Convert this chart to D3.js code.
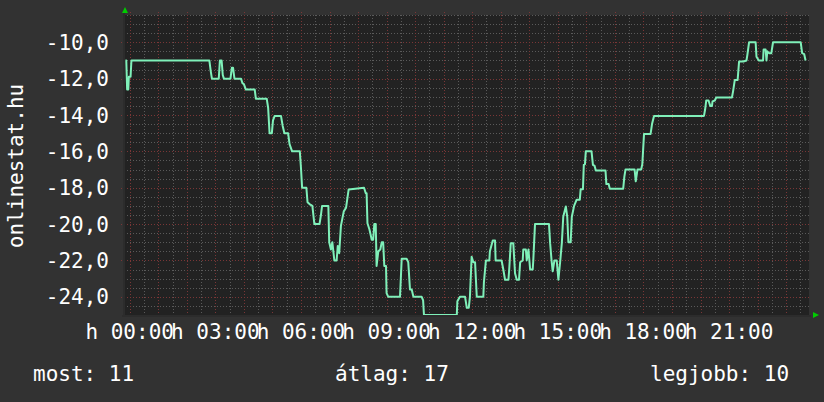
<!DOCTYPE html>
<meta charset="utf-8">
<style>
  body { margin: 0; background: #323232; }
  text { font-family: "DejaVu Sans Mono", monospace; font-size: 21px; fill: #ffffff; }
</style>
<body></body>
<script src="https://d3js.org/d3.v7.min.js"></script>
<script>

// one day of readings, hours from midnight (value in degrees)
var hours = [-0.15, -0.12, -0.09, -0.05, -0.03, 0.03, 0.06, 2.79, 2.84, 2.88, 3.12, 3.16, 3.22, 3.26, 3.30,
  3.53, 3.58, 3.62, 3.67, 3.90, 3.95, 4.00, 4.07, 4.38, 4.42, 4.80, 4.85, 4.90, 4.98, 5.02, 5.08, 5.30,
  5.36, 5.42, 5.55, 5.60, 5.69, 5.96, 6.00, 6.04, 6.19, 6.23, 6.30, 6.40, 6.47, 6.65, 6.70, 6.74, 6.96,
  6.99, 7.05, 7.10, 7.17, 7.25, 7.29, 7.34, 7.40, 7.50, 7.58, 7.67, 8.21, 8.27, 8.30, 8.33, 8.40, 8.48,
  8.53, 8.57, 8.62, 8.65, 8.71, 8.78, 8.83, 8.88, 8.92, 8.98, 9.00, 9.06, 9.47, 9.53, 9.70, 9.76, 9.82,
  9.88, 9.94, 10.23, 10.28, 10.31, 11.46, 11.48, 11.57, 11.75, 11.81, 11.88, 11.92, 11.98, 12.04, 12.10,
  12.16, 12.39, 12.41, 12.48, 12.60, 12.62, 12.72, 12.80, 12.82, 13.03, 13.09, 13.15, 13.27, 13.30, 13.35,
  13.44, 13.50, 13.56, 13.64, 13.68, 13.77, 13.79, 13.88, 13.91, 13.97, 14.03, 14.12, 14.14, 14.20, 14.69,
  14.73, 14.78, 14.82, 14.88, 14.96, 15.02, 15.08, 15.14, 15.19, 15.28, 15.33, 15.37, 15.45, 15.49, 15.57,
  15.66, 15.77, 15.80, 15.88, 15.91, 15.95, 15.98, 16.18, 16.23, 16.29, 16.33, 16.67, 16.70, 16.78, 16.82,
  17.29, 17.33, 17.37, 17.69, 17.73, 17.79, 17.92, 17.96, 18.02, 18.25, 18.30, 18.37, 20.12, 20.16, 20.20,
  20.28, 20.34, 20.40, 20.42, 20.50, 20.55, 21.10, 21.14, 21.20, 21.30, 21.35, 21.50, 21.61, 21.64, 21.70,
  21.93, 21.96, 22.04, 22.19, 22.21, 22.28, 22.31, 22.34, 22.40, 22.48, 22.54, 23.51, 23.56, 23.63, 23.68];

var temps = [-11.0, -11.0, -12.6, -12.6, -11.9, -11.9, -11.0, -11.0, -11.6, -12.0, -12.0, -11.0, -11.0, -11.8, -12.0,
  -12.0, -11.4, -11.4, -12.0, -12.0, -12.25, -12.3, -12.6, -12.6, -13.1, -13.1, -13.6, -15.0, -15.0, -14.3, -14.05, -14.05,
  -14.6, -15.0, -15.0, -15.6, -16.0, -16.0, -16.9, -18.0, -18.0, -18.8, -18.9, -19.0, -20.0, -20.0, -19.5, -19.0, -19.0,
  -21.0, -21.4, -21.0, -22.0, -22.0, -21.2, -21.6, -20.1, -19.3, -19.1, -18.1, -18.0, -18.3, -18.3, -19.95, -20.3, -20.86,
  -20.86, -20.0, -20.0, -22.3, -21.5, -21.4, -21.0, -21.0, -22.3, -22.3, -23.8, -24.0, -24.0, -21.9, -21.9, -22.1, -23.6,
  -23.6, -24.0, -24.0, -24.2, -25.0, -25.0, -24.25, -24.0, -24.0, -24.6, -24.6, -24.0, -21.8, -22.1, -22.1,
  -24.0, -24.0, -23.2, -22.0, -22.0, -21.5, -20.9, -20.9, -22.0, -22.0, -22.5, -23.06, -23.06, -22.4, -21.05,
  -21.05, -22.7, -23.06, -23.06, -22.1, -22.0, -21.4, -21.4, -22.0, -21.4, -22.5, -22.5, -22.0, -20.0, -20.0,
  -21.05, -22.0, -22.6, -22.0, -22.0, -23.06, -22.1, -21.05, -19.6, -19.03, -19.6, -21.0, -21.0, -19.6, -19.0,
  -18.66, -18.66, -18.08, -18.08, -16.74, -16.7, -16.0, -16.0, -16.74, -16.8, -17.05, -17.05, -17.8, -17.8, -18.05,
  -18.05, -17.4, -17.0, -17.0, -17.65, -17.0, -17.0, -16.7, -15.04, -15.04, -14.5, -14.05, -14.05, -13.7, -13.2,
  -13.2, -13.5, -13.5, -13.25, -13.2, -13.04, -13.04, -12.7, -12.07, -12.07, -11.06, -11.06, -11.0, -10.7, -10.0,
  -10.0, -10.8, -11.0, -11.0, -10.4, -10.4, -11.0, -10.5, -10.6, -10.6, -10.0, -10.0, -10.6, -10.65, -11.0];

var labelHours = [0, 3, 6, 9, 12, 15, 18, 21];
var xLabels = ["h 00:00", "h 03:00", "h 06:00", "h 09:00", "h 12:00", "h 15:00", "h 18:00", "h 21:00"];
var yLabelValues = [-24, -22, -20, -18, -16, -14, -12, -10];
var legendNames = ["most", "átlag", "legjobb"];
var legendValues = [11, 17, 10];

var width = 824,
    height = 402,
    plotLeft = 124, plotRight = 809, plotTop = 15, plotBottom = 315;

var x = d3.scaleLinear().domain([-0.2, 23.8]).range([plotLeft, plotRight]),
    y = d3.scaleLinear().domain([-25, -8.5]).range([plotBottom, plotTop]);

var svg = d3.select("body").append("svg")
    .attr("width", width)
    .attr("height", height);

svg.append("rect")
    .attr("width", width).attr("height", height)
    .attr("fill", "#323232");

svg.append("rect")
    .attr("x", plotLeft).attr("y", plotTop)
    .attr("width", plotRight - plotLeft).attr("height", plotBottom - plotTop)
    .attr("fill", "#222222");

// minor grid: every half hour / half degree
var minorX = d3.range(-0.5, 24, 0.5).filter(function(h) {
      return h % 1 != 0 && x(h) > plotLeft && x(h) < plotRight; }),
    minorY = d3.range(-24.5, -8.4, 0.5).filter(function(v) { return v % 2 != 0; });

svg.selectAll(".minorx")
    .data(minorX)
  .enter().append("line")
    .attr("x1", function(d) { return Math.round(x(d)) + 0.5; })
    .attr("x2", function(d) { return Math.round(x(d)) + 0.5; })
    .attr("y1", plotTop).attr("y2", plotBottom)
    .attr("stroke", "#5a5a5a")
    .attr("stroke-dasharray", "1,2");

svg.selectAll(".minory")
    .data(minorY)
  .enter().append("line")
    .attr("x1", plotLeft).attr("x2", plotRight)
    .attr("y1", function(d) { return Math.round(y(d)) + 0.5; })
    .attr("y2", function(d) { return Math.round(y(d)) + 0.5; })
    .attr("stroke", "#5a5a5a")
    .attr("stroke-dasharray", "1,2");

// major grid: every hour / two degrees
var majorX = d3.range(0, 24, 1);

svg.selectAll(".majorx")
    .data(majorX)
  .enter().append("line")
    .attr("x1", function(d) { return Math.round(x(d)) + 0.5; })
    .attr("x2", function(d) { return Math.round(x(d)) + 0.5; })
    .attr("y1", plotTop - 3).attr("y2", plotBottom + 3)
    .attr("stroke", "#7a3636")
    .attr("stroke-dasharray", "1,2");

svg.selectAll(".majory")
    .data(yLabelValues)
  .enter().append("line")
    .attr("x1", plotLeft - 3).attr("x2", plotRight + 2)
    .attr("y1", function(d) { return Math.round(y(d)) + 0.5; })
    .attr("y2", function(d) { return Math.round(y(d)) + 0.5; })
    .attr("stroke", "#7a3636")
    .attr("stroke-dasharray", "1,2");

// axes
svg.append("line")
    .attr("x1", plotLeft).attr("x2", plotLeft)
    .attr("y1", plotTop - 2).attr("y2", plotBottom + 2)
    .attr("stroke", "#2c2c2c").attr("stroke-width", 2);
svg.append("line")
    .attr("x1", plotLeft - 2).attr("x2", plotRight + 2)
    .attr("y1", plotBottom + 1).attr("y2", plotBottom + 1)
    .attr("stroke", "#2c2c2c").attr("stroke-width", 2);

svg.append("path")
    .attr("d", "M" + (plotLeft - 2) + "," + (plotTop - 2) + "l3,-6l3,6z")
    .attr("fill", "#00cc00");
svg.append("path")
    .attr("d", "M" + (plotRight + 4) + "," + (plotBottom - 3) + "l6,3l-6,3z")
    .attr("fill", "#00cc00");

// the reading
svg.append("clipPath").attr("id", "plot")
  .append("rect")
    .attr("x", plotLeft).attr("y", plotTop)
    .attr("width", plotRight - plotLeft).attr("height", plotBottom - plotTop);

var line = d3.line()
    .x(function(d) { return x(d[0]); })
    .y(function(d) { return y(d[1]); });

svg.append("path")
    .datum(d3.zip(hours, temps))
    .attr("clip-path", "url(#plot)")
    .attr("d", line)
    .attr("fill", "none")
    .attr("stroke", "#7ff0b9")
    .attr("stroke-width", 2)
    .attr("stroke-linejoin", "round");

// labels
svg.selectAll(".ylabel")
    .data(yLabelValues)
  .enter().append("text")
    .attr("x", 109)
    .attr("y", function(d) { return y(d) + 7.5; })
    .attr("text-anchor", "end")
    .text(function(d) { return d3.format(".1f")(d).replace("−", "-").replace(".", ","); });

svg.selectAll(".xlabel")
    .data(labelHours)
  .enter().append("text")
    .attr("x", function(d) { return x(d); })
    .attr("y", 339)
    .attr("text-anchor", "middle")
    .text(function(d, i) { return xLabels[i]; });

svg.append("text")
    .attr("transform", "translate(23,166) rotate(-90)")
    .attr("text-anchor", "middle")
    .text("onlinestat.hu");

var legendX = [33, 335, 650];
svg.selectAll(".legend")
    .data(legendNames)
  .enter().append("text")
    .attr("x", function(d, i) { return legendX[i]; })
    .attr("y", 381)
    .text(function(d, i) { return d + ": " + legendValues[i]; });

</script>
